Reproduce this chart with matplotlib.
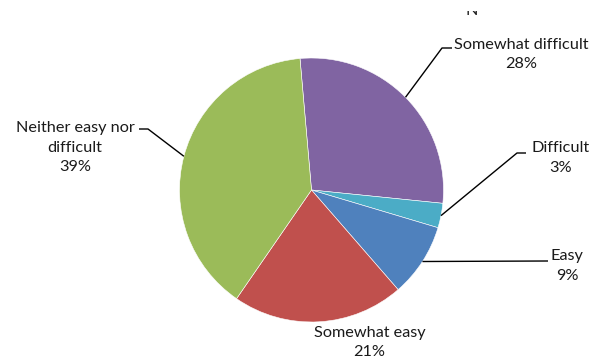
import numpy as np
import matplotlib
matplotlib.use("Agg")
import matplotlib.pyplot as plt
from matplotlib.patches import Rectangle

labels = ["Somewhat difficult", "Difficult", "Easy", "Somewhat easy", "Neither easy nor\ndifficult"]
values = [28, 3, 9, 21, 39]
colors = ["#8064A2", "#4BACC6", "#4F81BD", "#C0504D", "#9BBB59"]

W, H = 594, 364
fig = plt.figure(figsize=(W / 100, H / 100), dpi=100)
ax = fig.add_axes([0, 0, 1, 1])

cx, cy, R = 311.5, H - 190, 132
wedges, _ = ax.pie(values, colors=colors, startangle=95, counterclock=False,
                   center=(cx, cy), radius=R, frame=True,
                   wedgeprops=dict(edgecolor="white", linewidth=0.4))
ax.set_xlim(0, W)
ax.set_ylim(0, H)
ax.set_aspect("equal")
ax.axis("off")

font = dict(family="Lato", fontsize=11.7, color="#1a1a1a")


def edge_point(w):
    a = np.deg2rad((w.theta1 + w.theta2) / 2)
    return cx + R * np.cos(a), cy + R * np.sin(a)


pcts = [f"{v}%" for v in values]

# label block centres and leader-line elbows, in pixels from the top-left corner
text_pos = [(521.5, 54.5), (560.5, 158), (567, 266), (369.5, 342.5), (75, 147.5)]
elbows = [((442, 48), (452, 48)), ((517, 153), (526, 153)), ((547, 261), (548, 261)),
          None, ((148, 129), (139, 129))]

for w, lab, pct, tp, el in zip(wedges, labels, pcts, text_pos, elbows):
    ax.text(tp[0], H - tp[1], f"{lab}\n{pct}", ha="center", va="center",
            linespacing=1.5, **font)
    if el is not None:
        px, py = edge_point(w)
        (ex, ey), (hx, hy) = el
        ax.plot([px, ex, hx], [py, H - ey, H - hy], color="black", lw=1.0,
                solid_capstyle="butt")

# chart title, mostly hidden above the visible area
title = fig.text(472 / W, 1 - 15 / H, "N", ha="center", va="baseline", **font)
clip = Rectangle((0, 0), 1, 1 - 11 / H, transform=fig.transFigure)
title.set_clip_path(clip)

fig.savefig("out.png", dpi=100)
